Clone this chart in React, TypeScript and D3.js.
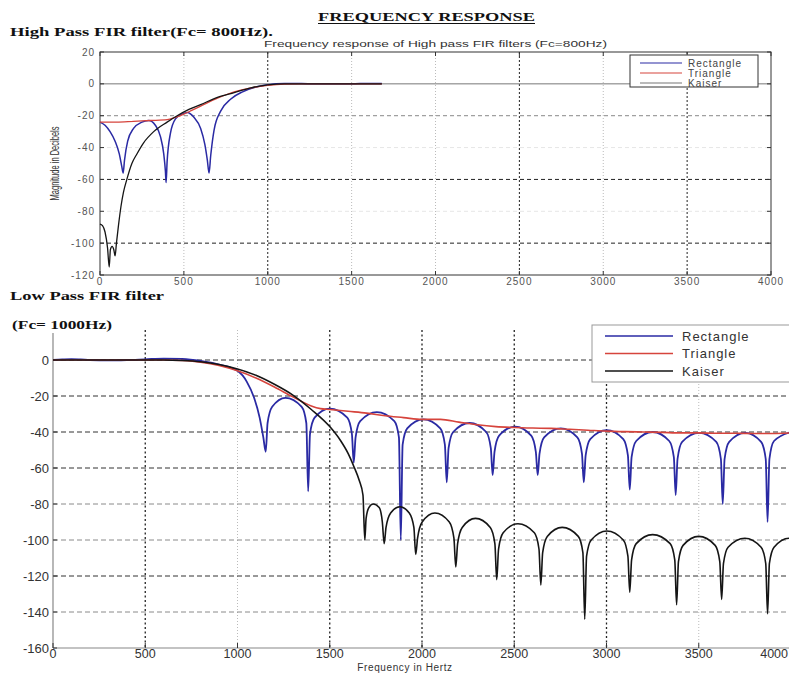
import React from 'react';
import * as d3 from 'd3';

type Pt = [number, number];

// axis ticks
const freqTicks = [0, 500, 1000, 1500, 2000, 2500, 3000, 3500, 4000];
const hpDbTicks = [20, 0, -20, -40, -60, -80, -100, -120];
const lpDbTicks = [0, -20, -40, -60, -80, -100, -120, -140, -160];
const windowNames = ['Rectangle', 'Triangle', 'Kaiser'];

// High pass (Fc = 800 Hz), [frequency Hz, magnitude dB]
const hpRectangle: Pt[] = [
  [0, -24], [30, -26], [60, -30], [90, -36], [115, -44], [130, -52], [138, -56], [146, -48],
  [165, -36], [200, -28], [250, -24], [290, -23], [330, -26], [360, -33], [380, -44], [390, -55],
  [394, -62], [400, -49], [420, -31], [450, -22], [490, -19], [520, -18], [560, -21], [600, -28],
  [625, -38], [640, -48], [650, -56], [660, -45], [680, -29], [720, -17], [780, -9.5], [850, -5],
  [930, -2], [1000, -0.5], [1100, 0.3], [1200, 0.2], [1300, 0], [1400, 0], [1500, 0], [1600, 0.3],
  [1680, 0.2],
];
const hpTriangle: Pt[] = [
  [0, -24], [100, -24], [200, -23.5], [300, -23], [400, -22.5], [450, -21], [500, -19], [550, -16.5],
  [600, -14], [700, -9], [800, -5], [900, -2.5], [1000, -1], [1100, -0.2], [1200, 0], [1680, 0],
];
const hpKaiser: Pt[] = [
  [0, -88], [15, -89], [30, -93], [45, -103], [55, -115], [62, -104], [72, -102], [82, -104],
  [90, -108], [98, -100], [110, -89], [125, -77], [140, -68], [160, -60], [190, -50], [220, -44],
  [260, -37], [320, -30], [400, -24], [460, -20], [530, -16], [600, -13], [700, -8.5], [800, -5.5],
  [900, -2.5], [1000, -0.6], [1100, 0], [1680, 0],
];

// Low pass (Fc = 1000 Hz)
const lpRectangle: Pt[] = [
  [0, 0], [50, 0.3], [100, 0.5], [150, 0.3], [200, 0], [300, -0.2], [400, 0], [500, 0.4],
  [600, 0.8], [700, 0.6], [800, -0.5], [900, -2.5], [1000, -6], [1050, -12], [1090, -21],
  [1120, -32], [1140, -43], [1153, -51],
  [1163, -35], [1188, -26], [1260, -21], [1348, -26], [1373, -35], [1383, -73],
  [1393, -41], [1418, -32], [1500, -27], [1595, -32], [1620, -41], [1630, -57],
  [1640, -43], [1665, -34], [1755, -29], [1850, -34], [1875, -43], [1885, -100],
  [1895, -47], [1920, -38], [2008, -33], [2099, -38], [2124, -47], [2134, -68],
  [2144, -49], [2169, -40], [2258, -35], [2348, -40], [2373, -49], [2383, -64],
  [2393, -51], [2418, -42], [2505, -37], [2592, -42], [2617, -51], [2627, -64],
  [2637, -52], [2662, -43], [2752, -38], [2842, -43], [2867, -52], [2877, -68],
  [2887, -53], [2912, -44], [3001, -39], [3091, -44], [3116, -53], [3126, -72],
  [3136, -54], [3161, -45], [3250, -40], [3340, -45], [3365, -54], [3375, -75],
  [3385, -55], [3410, -45.5], [3502, -40.5], [3595, -45.5], [3620, -55], [3630, -80],
  [3640, -55], [3665, -45.5], [3752, -40.5], [3838, -45.5], [3863, -55], [3873, -90],
  [3883, -55], [3908, -45], [4000, -40],
];
const lpTriangle: Pt[] = [
  [0, 0], [200, 0], [400, 0], [600, 0], [700, -0.3], [800, -1.2], [900, -3], [1000, -6],
  [1100, -10], [1200, -15], [1300, -20.5], [1400, -25.5], [1450, -27], [1500, -27.5],
  [1600, -28.5], [1700, -29.5], [1800, -31], [1900, -32], [2000, -33], [2100, -33],
  [2200, -34.5], [2300, -36], [2400, -37], [2500, -37.5], [2600, -37.8], [2700, -38],
  [2800, -38.5], [2900, -39], [3000, -39.5], [3100, -39.8], [3200, -40], [3300, -40.2],
  [3400, -40.5], [3500, -40.5], [3600, -40.7], [3700, -40.7], [3800, -40.8], [3900, -40.8],
  [4000, -40.5],
];
const lpKaiser: Pt[] = [
  [0, 0], [300, 0], [600, 0], [700, -0.3], [800, -1], [900, -2.5], [1000, -5], [1100, -8.5],
  [1200, -13.5], [1300, -19.5], [1400, -27.5], [1500, -37], [1560, -45], [1600, -52],
  [1630, -59], [1660, -67], [1680, -75], [1690, -100],
  [1697, -88], [1712, -82], [1735, -80], [1768, -82], [1785, -90], [1795, -102],
  [1805, -93], [1830, -85], [1880, -81.5], [1931, -85], [1956, -93], [1966, -108],
  [1976, -99], [2001, -90], [2070, -85], [2148, -90], [2173, -99], [2183, -115],
  [2193, -102], [2218, -93], [2290, -88], [2370, -93], [2395, -102], [2405, -122],
  [2415, -105], [2440, -96], [2520, -91], [2609, -96], [2634, -105], [2644, -125],
  [2654, -107], [2679, -98], [2760, -93], [2847, -98], [2872, -107], [2882, -144],
  [2892, -109], [2917, -100], [3002, -95], [3091, -100], [3116, -109], [3126, -129],
  [3136, -111], [3161, -102], [3250, -97], [3345, -102], [3370, -111], [3380, -136],
  [3390, -112], [3415, -103], [3500, -98], [3589, -103], [3614, -112], [3624, -133],
  [3634, -113], [3659, -104], [3750, -99], [3838, -104], [3863, -113], [3873, -141],
  [3883, -113], [3908, -104], [3990, -99], [4000, -99.5],
];

const colors = ['#2a2aa4', '#d6443c', '#151515'];
const labelFont = '"Liberation Sans", Arial, sans-serif';
const titleFont = '"Liberation Serif", "Times New Roman", serif';

const W = 789;
const H = 673;

const App: React.FC = () => {
  // high pass panel
  const hx = d3.scaleLinear().domain([0, 4000]).range([100, 771]);
  const hy = d3.scaleLinear().domain([-120, 20]).range([275, 52]);
  // low pass panel (right end runs off the page, as in the scan)
  const lx = d3.scaleLinear().domain([0, 4000]).range([53, 791]);
  const ly = d3.scaleLinear().domain([-160, 0]).range([648, 360]);
  const lpTop = ly(15);

  const hLine = d3.line<Pt>().x(d => hx(d[0])).y(d => hy(d[1])).curve(d3.curveMonotoneX);
  const lLine = d3.line<Pt>().x(d => lx(d[0])).y(d => ly(d[1])).curve(d3.curveMonotoneX);

  const hpSeries = [hpRectangle, hpTriangle, hpKaiser];
  const lpSeries = [lpRectangle, lpTriangle, lpKaiser];

  const hpStrongX = new Set([1000, 2500, 3500]);
  const lpStrongX = new Set([500, 1500, 2000, 2500, 3000]);

  const hpGridY = (v: number) => {
    if (v === 0) return { stroke: '#777', dash: 'none' };
    if (v === -20) return { stroke: '#888', dash: '4,3' };
    if (v === -60 || v === -100) return { stroke: '#222', dash: '4,3' };
    return { stroke: '#e6e6e6', dash: '4,3' };
  };
  const lpGridY = (v: number) => {
    if (v === -80 || v === -100 || v === -140) return '#8a8a8a';
    return '#333';
  };

  return (
    <div style={{ position: 'absolute', left: 0, top: 0 }}>
      <svg width={W} height={H} style={{ display: 'block', background: '#fff' }}>
        {/* headings */}
        <text x={318} y={21} fontFamily={titleFont} fontWeight="bold" fontSize={13}
          textLength={217} lengthAdjust="spacingAndGlyphs" fill="#111">FREQUENCY RESPONSE</text>
        <line x1={318} x2={535} y1={23.5} y2={23.5} stroke="#111" strokeWidth={1} />
        <text x={10} y={36} fontFamily={titleFont} fontWeight="bold" fontSize={13}
          textLength={263} lengthAdjust="spacingAndGlyphs" fill="#111">High Pass FIR filter(Fc= 800Hz).</text>
        <text x={10} y={300} fontFamily={titleFont} fontWeight="bold" fontSize={12}
          textLength={154} lengthAdjust="spacingAndGlyphs" fill="#111">Low Pass FIR filter</text>
        <text x={12} y={329} fontFamily={titleFont} fontWeight="bold" fontSize={12}
          textLength={100} lengthAdjust="spacingAndGlyphs" fill="#111">(Fc= 1000Hz)</text>

        {/* ---------- High pass panel ---------- */}
        <text x={(hx(0) + hx(4000)) / 2} y={47} textAnchor="middle" fontFamily={labelFont} fontSize={9}
          textLength={343} lengthAdjust="spacingAndGlyphs" fill="#333">
          Frequency response of High pass FIR filters (Fc=800Hz)
        </text>
        {freqTicks.slice(1, -1).map(v => (
          <line key={`hgx${v}`} x1={hx(v)} x2={hx(v)} y1={hy(20)} y2={hy(-120)}
            stroke={hpStrongX.has(v) ? '#222' : '#bbb'} strokeDasharray={hpStrongX.has(v) ? '2,2' : '1,2'} />
        ))}
        {hpDbTicks.slice(1, -1).map(v => {
          const s = hpGridY(v);
          return (
            <line key={`hgy${v}`} x1={hx(0)} x2={hx(4000)} y1={hy(v)} y2={hy(v)}
              stroke={s.stroke} strokeDasharray={s.dash} />
          );
        })}
        <rect x={hx(0)} y={hy(20)} width={hx(4000) - hx(0)} height={hy(-120) - hy(20)}
          fill="none" stroke="#333" strokeWidth={1} />
        {freqTicks.map(v => (
          <g key={`htx${v}`}>
            <line x1={hx(v)} x2={hx(v)} y1={hy(-120)} y2={hy(-120) - 4} stroke="#333" />
            <line x1={hx(v)} x2={hx(v)} y1={hy(20)} y2={hy(20) + 4} stroke="#333" />
            <text x={hx(v)} y={285} textAnchor="middle" fontFamily={labelFont} fontSize={10} fill="#555"
              letterSpacing={1}>{v}</text>
          </g>
        ))}
        {hpDbTicks.map(v => (
          <g key={`hty${v}`}>
            <line x1={hx(0)} x2={hx(0) + 4} y1={hy(v)} y2={hy(v)} stroke="#333" />
            <line x1={hx(4000)} x2={hx(4000) - 4} y1={hy(v)} y2={hy(v)} stroke="#333" />
            <text x={95} y={hy(v) + 3.5} textAnchor="end" fontFamily={labelFont} fontSize={10} fill="#555"
              letterSpacing={1}>{v}</text>
          </g>
        ))}
        <text transform={`translate(59,${(hy(20) + hy(-120)) / 2}) rotate(-90)`} textAnchor="middle"
          fontFamily={labelFont} fontSize={12} textLength={74} lengthAdjust="spacingAndGlyphs" fill="#333">
          Magnitude in Decibels
        </text>
        {hpSeries.map((s, i) => (
          <path key={`hs${i}`} d={hLine(s) || ''} fill="none" stroke={colors[i]}
            strokeWidth={i === 0 ? 1.5 : 1.3} strokeLinejoin="round" />
        ))}
        <rect x={630} y={55} width={128} height={32} fill="#fff" stroke="#333" strokeWidth={1} />
        {windowNames.map((n, i) => (
          <g key={`hl${n}`}>
            <line x1={640} x2={682} y1={63 + i * 10} y2={63 + i * 10}
              stroke={i === 2 ? '#777' : colors[i]} strokeWidth={1.2} />
            <text x={688} y={66.5 + i * 10} fontFamily={labelFont} fontSize={10} fill="#444"
              letterSpacing={1}>{n}</text>
          </g>
        ))}

        {/* ---------- Low pass panel ---------- */}
        {freqTicks.slice(1).map(v => (
          <line key={`lgx${v}`} x1={lx(v)} x2={lx(v)} y1={330} y2={ly(-160)}
            stroke={lpStrongX.has(v) ? '#222' : '#bbb'} strokeWidth={lpStrongX.has(v) ? 1.3 : 1}
            strokeDasharray={lpStrongX.has(v) ? '2,2.5' : '1,2'} />
        ))}
        {lpDbTicks.slice(0, -1).map(v => (
          <line key={`lgy${v}`} x1={lx(0)} x2={W} y1={ly(v)} y2={ly(v)}
            stroke={lpGridY(v)} strokeDasharray="5,3" />
        ))}
        <line x1={lx(0)} x2={lx(0)} y1={lpTop} y2={ly(-160)} stroke="#888" strokeWidth={1.2} />
        <line x1={lx(0)} x2={W} y1={ly(-160)} y2={ly(-160)} stroke="#888" strokeWidth={1.2} />
        {freqTicks.map(v => {
          const last = v === 4000;
          return (
            <g key={`ltx${v}`}>
              <line x1={lx(v)} x2={lx(v)} y1={ly(-160)} y2={ly(-160) - 5} stroke="#333" />
              <text x={last ? W - 1 : lx(v)} y={658} textAnchor={last ? 'end' : 'middle'}
                fontFamily={labelFont} fontSize={12.5} fill="#333">{v}</text>
            </g>
          );
        })}
        {lpDbTicks.map(v => (
          <g key={`lty${v}`}>
            <line x1={lx(0)} x2={lx(0) + 4} y1={ly(v)} y2={ly(v)} stroke="#333" />
            <text x={49} y={ly(v) + 4.5} textAnchor="end" fontFamily={labelFont} fontSize={13} fill="#333">{v}</text>
          </g>
        ))}
        <text x={405} y={671} textAnchor="middle" fontFamily={labelFont} fontSize={10} fill="#333"
          letterSpacing={0.6}>Frequency in Hertz</text>
        {lpSeries.map((s, i) => (
          <path key={`ls${i}`} d={lLine(s) || ''} fill="none" stroke={colors[i]}
            strokeWidth={i === 0 ? 1.8 : 1.6} strokeLinejoin="round" />
        ))}
        <rect x={592} y={325} width={210} height={57} fill="#fff" stroke="#999" strokeWidth={1} />
        {windowNames.map((n, i) => (
          <g key={`ll${n}`}>
            <line x1={605} x2={673} y1={336 + i * 17.5} y2={336 + i * 17.5} stroke={colors[i]} strokeWidth={1.6} />
            <text x={682} y={340.5 + i * 17.5} fontFamily={labelFont} fontSize={13} fill="#333"
              letterSpacing={1}>{n}</text>
          </g>
        ))}
      </svg>
    </div>
  );
};

export default App;
